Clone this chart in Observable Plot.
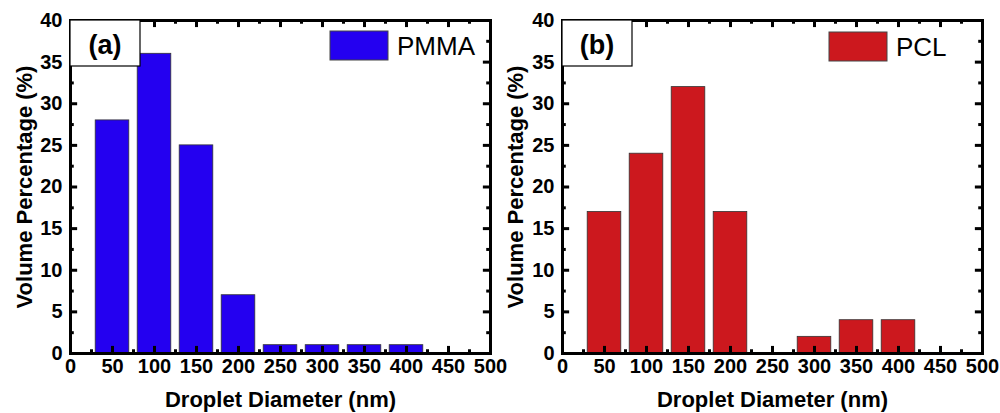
<!DOCTYPE html>
<html>
<head>
<meta charset="utf-8">
<script src="https://cdn.jsdelivr.net/npm/d3@7"></script>
<script src="https://cdn.jsdelivr.net/npm/@observablehq/plot@0.6"></script>
<style>
  html, body { margin: 0; padding: 0; background: white; }
  #wrap { display: flex; width: 1000px; height: 413px; overflow: visible; }
  #wrap svg { overflow: visible; }
</style>
</head>
<body>
<div id="wrap"></div>
<script>
// ---- data ----
const diameters = [50, 100, 150, 200, 250, 300, 350, 400];
const pmmaValues = [28, 36, 25, 7, 1, 1, 1, 1];
const pclValues = [17, 24, 32, 17, 0, 2, 4, 4];
const xMajor = [0, 50, 100, 150, 200, 250, 300, 350, 400, 450, 500];
const xMinor = [25, 75, 125, 175, 225, 275, 325, 375, 425, 475];
const yMajor = [0, 5, 10, 15, 20, 25, 30, 35, 40];
const yMinor = [2.5, 7.5, 12.5, 17.5, 22.5, 27.5, 32.5, 37.5];
const xLabel = "Droplet Diameter (nm)";
const yLabel = "Volume Percentage (%)";

const FONT = "'Liberation Sans', Arial, Helvetica, sans-serif";

function overlay(panelLabel, seriesName, color, legendDx, legendDy) {
  return (...args) => {
    const dims = args.find(a => a && typeof a === "object" && a.marginLeft !== undefined && a.width !== undefined);
    const ml = dims.marginLeft, mt = dims.marginTop;
    const g = d3.create("svg:g");
    g.append("rect")
      .attr("x", ml).attr("y", mt).attr("width", 70).attr("height", 46)
      .attr("fill", "white").attr("stroke", "black").attr("stroke-width", 1.2);
    g.append("text")
      .attr("x", ml + 35).attr("y", mt + 34)
      .attr("text-anchor", "middle")
      .attr("font-family", FONT).attr("font-weight", "bold").attr("font-size", 27)
      .attr("fill", "black")
      .text(panelLabel);
    g.append("rect")
      .attr("x", ml + legendDx).attr("y", mt + legendDy).attr("width", 58).attr("height", 29)
      .attr("fill", color).attr("stroke", "#444").attr("stroke-width", 1);
    g.append("text")
      .attr("x", ml + legendDx + 67).attr("y", mt + legendDy + 24)
      .attr("text-anchor", "start")
      .attr("font-family", FONT).attr("font-weight", "normal").attr("font-size", 26)
      .attr("fill", "black")
      .text(seriesName);
    return g.node();
  };
}

function panel(values, color, marginLeft, marginRight, panelLabel, seriesName, legendDx, legendDy, yLabelDx) {
  const data = diameters.map((d, i) => ({d, v: values[i]})).filter(r => r.v > 0);
  return Plot.plot({
    width: 500,
    height: 413,
    marginLeft, marginRight,
    marginTop: 20,
    marginBottom: 60,
    style: {fontFamily: FONT, fontSize: "20px", fontWeight: "bold", background: "none", color: "black", overflow: "visible"},
    x: {domain: [0, 500]},
    y: {domain: [0, 40]},
    marks: [
      Plot.rectY(data, {x1: r => r.d - 25, x2: r => r.d + 25, y: "v", insetLeft: 4.2, insetRight: 4.2, fill: color, stroke: "#333", strokeWidth: 0.8}),
      // inward ticks (bottom / top)
      Plot.ruleX(xMajor, {x: d => d, y1: 0, y2: 0.85, strokeWidth: 3}),
      Plot.ruleX(xMinor, {x: d => d, y1: 0, y2: 0.45, strokeWidth: 3}),
      Plot.ruleX(xMajor, {x: d => d, y1: 40, y2: 39.15, strokeWidth: 3}),
      Plot.ruleX(xMinor, {x: d => d, y1: 40, y2: 39.55, strokeWidth: 3}),
      // inward ticks (left / right)
      Plot.ruleY(yMajor, {y: d => d, x1: 0, x2: 8.5, strokeWidth: 3}),
      Plot.ruleY(yMinor, {y: d => d, x1: 0, x2: 4.5, strokeWidth: 3}),
      Plot.ruleY(yMajor, {y: d => d, x1: 500, x2: 491.5, strokeWidth: 3}),
      Plot.ruleY(yMinor, {y: d => d, x1: 500, x2: 495.5, strokeWidth: 3}),
      Plot.axisX({ticks: xMajor, tickSize: 0, tickPadding: 5, label: null, fontSize: 20, fontWeight: "bold"}),
      Plot.axisY({ticks: yMajor, tickSize: 0, tickPadding: 8, label: null, fontSize: 20, fontWeight: "bold"}),
      Plot.text([xLabel], {text: d => d, frameAnchor: "bottom", textAnchor: "middle", lineAnchor: "bottom", dy: 53, fontSize: 22, fontWeight: "bold"}),
      Plot.text([yLabel], {text: d => d, frameAnchor: "left", textAnchor: "middle", lineAnchor: "middle", rotate: -90, dx: yLabelDx, fontSize: 22, fontWeight: "bold"}),
      Plot.frame({stroke: "black", strokeWidth: 3}),
      overlay(panelLabel, seriesName, color, legendDx, legendDy)
    ]
  });
}

const wrap = document.getElementById("wrap");
wrap.appendChild(panel(pmmaValues, "#2400f0", 70, 10, "(a)", "PMMA", 260, 11, -46));
wrap.appendChild(panel(pclValues, "#cc181e", 62, 18, "(b)", "PCL", 267, 12, -47));
</script>
</body>
</html>
